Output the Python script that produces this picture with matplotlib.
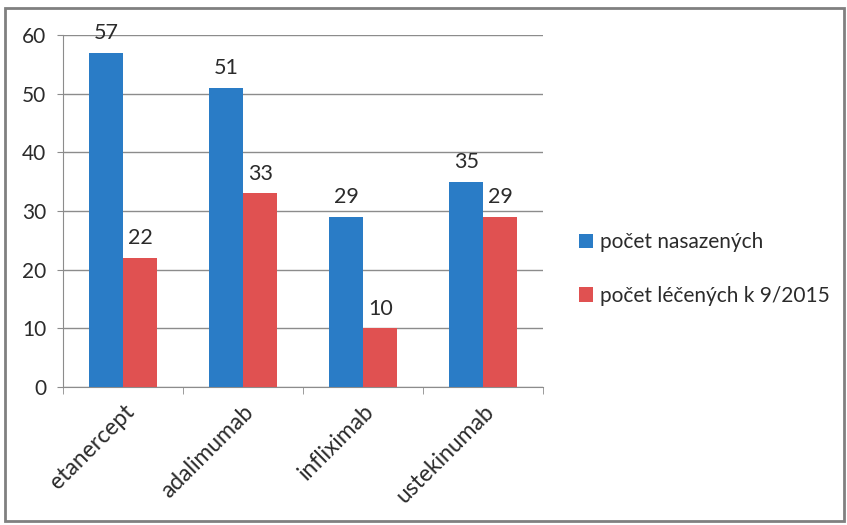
import matplotlib
matplotlib.use("Agg")
import matplotlib.pyplot as plt
from matplotlib.patches import Rectangle
import numpy as np

categories = ["etanercept", "adalimumab", "infliximab", "ustekinumab"]
nasazenych = [57, 51, 29, 35]
lecenych = [22, 33, 10, 29]
series_names = ["počet nasazených", "počet léčených k 9/2015"]
yticks = [0, 10, 20, 30, 40, 50, 60]

BLUE = "#2a7cc6"
RED = "#e05151"
GRID = "#8c8c8c"
TEXT = "#2b2b2b"
FS = 15

plt.rcParams["font.family"] = ["Lato", "DejaVu Sans"]
plt.rcParams["text.color"] = TEXT
plt.rcParams["xtick.labelcolor"] = TEXT
plt.rcParams["ytick.labelcolor"] = TEXT

fig = plt.figure(figsize=(8.47, 5.25), dpi=100)
fig.patches.append(Rectangle((0.006, 0.008), 0.99, 0.977, transform=fig.transFigure,
                             fill=False, edgecolor="#808080", linewidth=2))
ax = fig.add_axes([0.0744, 0.2629, 0.567, 0.6705])

x = np.arange(len(categories))
w = 0.285
b1 = ax.bar(x - w / 2, nasazenych, w, color=BLUE, label=series_names[0], zorder=3)
b2 = ax.bar(x + w / 2, lecenych, w, color=RED, label=series_names[1], zorder=3)

for bars in (b1, b2):
    for rect in bars:
        h = rect.get_height()
        ax.annotate(f"{h}", (rect.get_x() + rect.get_width() / 2, h),
                    xytext=(0, 7), textcoords="offset points",
                    ha="center", va="bottom", fontsize=FS + 0.5)

ax.set_xlim(-0.5, len(categories) - 0.5)
ax.set_ylim(0, 60)
ax.set_yticks(yticks)
ax.yaxis.grid(True, color=GRID, linewidth=1, zorder=0)
ax.set_axisbelow(True)

ax.set_xticks(x)
ax.set_xticklabels(categories, rotation=45, ha="right", rotation_mode="anchor", fontsize=16.5)
ax.set_xticks(np.arange(len(categories) + 1) - 0.5, minor=True)
ax.tick_params(axis="x", which="major", length=0, pad=10)
ax.tick_params(axis="x", which="minor", length=5, color=GRID)
ax.tick_params(axis="y", length=4, color=GRID, labelsize=FS, pad=8)

for side in ("top", "right"):
    ax.spines[side].set_visible(False)
for side in ("left", "bottom"):
    ax.spines[side].set_color(GRID)

ax.legend(loc="center left", bbox_to_anchor=(1.035, 0.335), frameon=False,
          fontsize=15, handlelength=0.7, handleheight=0.7, handletextpad=0.3,
          labelspacing=1.6)

fig.savefig("out.png", dpi=100)
